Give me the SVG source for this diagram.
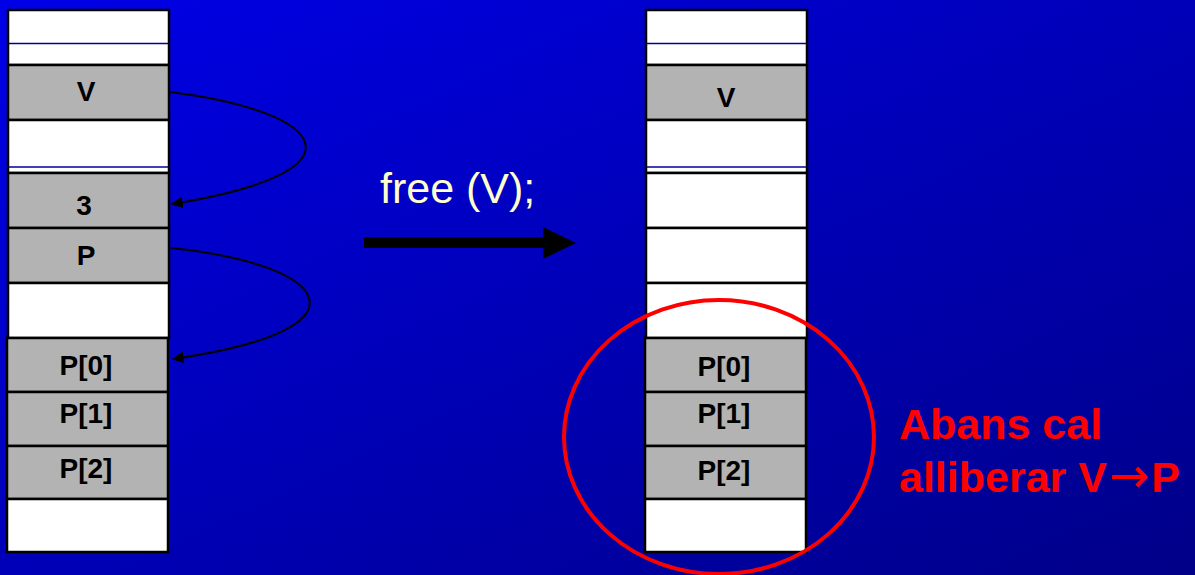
<svg xmlns="http://www.w3.org/2000/svg" width="1195" height="575" viewBox="0 0 1195 575">
<defs>
<linearGradient id="bg" x1="0" y1="0" x2="1" y2="1">
<stop offset="0" stop-color="#0000E8"/>
<stop offset="1" stop-color="#000088"/>
</linearGradient>
<marker id="ah" viewBox="0 0 10 10" refX="9" refY="5" markerWidth="12" markerHeight="12" markerUnits="userSpaceOnUse" orient="auto">
<path d="M0,0 L10,5 L0,10 Z" fill="#000"/>
</marker>
<style>
.w{fill:#FFFFFF;stroke:#000;stroke-width:2.5}
.g{fill:#B3B3B3;stroke:#000;stroke-width:2.5}
.br{stroke:#000099;stroke-width:1.3}
.lb{font-family:"Liberation Sans",Arial,sans-serif;font-weight:bold;font-size:28px;fill:#000;text-anchor:middle}
.cn{fill:none;stroke:#000;stroke-width:2}
</style>
</defs>
<rect x="0" y="0" width="1195" height="575" fill="url(#bg)"/>

<g id="left-column">
<g id="L-top"><rect class="w" x="8" y="10" width="161" height="55"/><line class="br" x1="9" y1="43.5" x2="168" y2="43.5"/></g>
<g id="L-V"><rect class="g" x="8" y="65" width="161" height="55"/><text class="lb" x="86" y="101">V</text></g>
<g id="L-gap"><rect class="w" x="8" y="120" width="161" height="53"/><line class="br" x1="9" y1="167" x2="168" y2="167"/></g>
<g id="L-3"><rect class="g" x="8" y="173" width="161" height="55"/><text class="lb" x="84" y="215">3</text></g>
<g id="L-P"><rect class="g" x="8" y="228" width="161" height="55"/><text class="lb" x="86" y="265">P</text></g>
<g id="L-empty"><rect class="w" x="8" y="283" width="161" height="55"/></g>
<g id="L-P0"><rect class="g" x="7" y="338" width="161" height="54"/><text class="lb" x="86" y="375">P[0]</text></g>
<g id="L-P1"><rect class="g" x="7" y="392" width="161" height="54"/><text class="lb" x="86" y="423">P[1]</text></g>
<g id="L-P2"><rect class="g" x="7" y="446" width="161" height="53"/><text class="lb" x="86" y="478">P[2]</text></g>
<g id="L-bottom"><rect class="w" x="7" y="499" width="161" height="53"/></g>
</g>

<g id="right-column">
<g id="R-top"><rect class="w" x="646" y="10" width="161" height="55"/><line class="br" x1="647" y1="43.5" x2="806" y2="43.5"/></g>
<g id="R-V"><rect class="g" x="646" y="65" width="161" height="55"/><text class="lb" x="726" y="107">V</text></g>
<g id="R-gap"><rect class="w" x="646" y="120" width="161" height="53"/><line class="br" x1="647" y1="167" x2="806" y2="167"/></g>
<g id="R-free1"><rect class="w" x="646" y="173" width="161" height="55"/></g>
<g id="R-free2"><rect class="w" x="646" y="228" width="161" height="55"/></g>
<g id="R-empty"><rect class="w" x="646" y="283" width="161" height="55"/></g>
<g id="R-P0"><rect class="g" x="645" y="338" width="161" height="54"/><text class="lb" x="724" y="376">P[0]</text></g>
<g id="R-P1"><rect class="g" x="645" y="392" width="161" height="54"/><text class="lb" x="724" y="423">P[1]</text></g>
<g id="R-P2"><rect class="g" x="645" y="446" width="161" height="53"/><text class="lb" x="724" y="480">P[2]</text></g>
<g id="R-bottom"><rect class="w" x="645" y="499" width="161" height="53"/></g>
</g>

<g id="connectors">
<path class="cn" d="M170,92 C330,112 370,172 172,204" marker-end="url(#ah)"/>
<path class="cn" d="M171,248 C335,265 375,330 173,359" marker-end="url(#ah)"/>
<g id="big-arrow">
<rect x="364" y="237" width="181" height="11" fill="#000"/>
<path d="M543,227 L576,243 L543,259 Z" fill="#000"/>
</g>
</g>

<g id="label-free">
<text x="380" y="203" font-family="Liberation Sans, Arial, sans-serif" font-size="43" fill="#FFFFCC">free (V);</text>
</g>

<g id="highlight">
<ellipse cx="719" cy="437" rx="155" ry="137" fill="none" stroke="#FF0000" stroke-width="4"/>
</g>

<g id="note">
<text font-family="Liberation Sans, Arial, sans-serif" font-weight="bold" font-size="43" fill="#FF0000">
<tspan x="899" y="439">Abans cal</tspan>
<tspan x="899" y="492">alliberar V<tspan dx="2" font-family="DejaVu Sans, sans-serif" font-weight="normal" font-size="48">→</tspan><tspan dx="2">P</tspan></tspan>
</text>
</g>
</svg>
